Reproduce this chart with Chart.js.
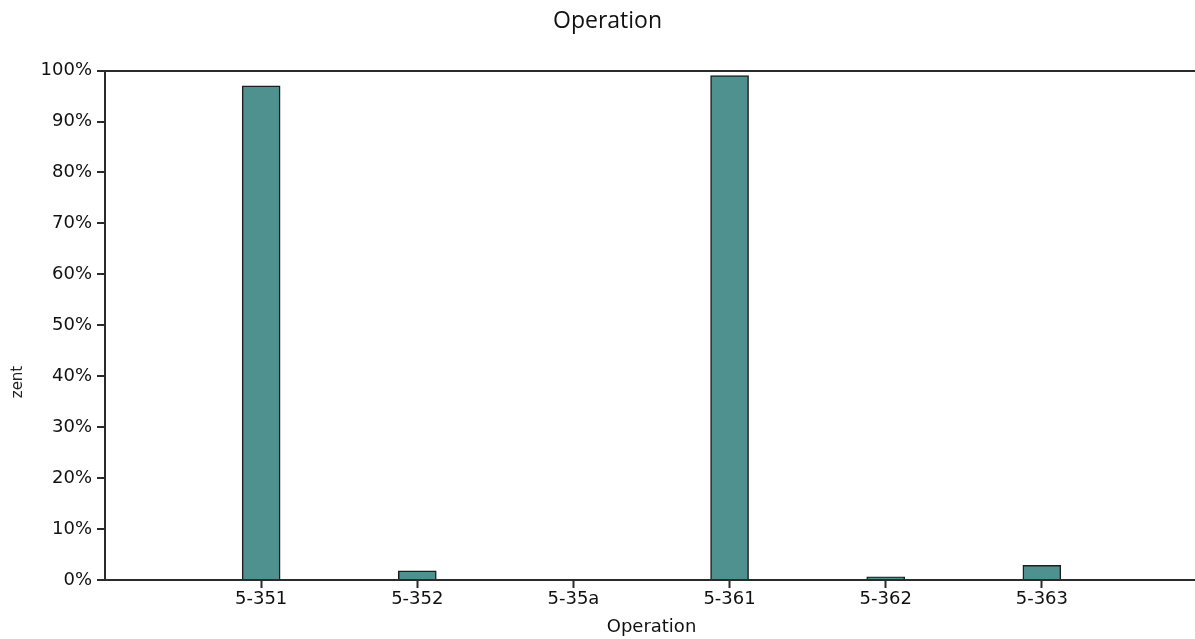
<!DOCTYPE html>
<html>
<head>
<meta charset="utf-8">
<title>Operation</title>
<script src="https://cdn.jsdelivr.net/npm/chart.js@4.4.1/dist/chart.umd.min.js"></script>
<style>
    html, body { margin: 0; padding: 0; background: #fff; overflow: hidden; }
    /* the original is cropped on the right, so the canvas runs a bit past the window */
    #wrap { width: 1215px; height: 639px; }
</style>
</head>
<body>
<div id="wrap"><canvas id="opChart"></canvas></div>
<script>
// Data
const operations = ["5-351", "5-352", "5-35a", "5-361", "5-362", "5-363"];
const percentValues = [97, 1.8, 0, 99, 0.6, 2.9];
const yTicks = [0, 10, 20, 30, 40, 50, 60, 70, 80, 90, 100];

// Empty slot on each side, like the original axis
const labels = ["", ...operations, ""];
const values = [null, ...percentValues, null];

const axisColor = "#2b2b2b";
const tickFont = { family: "DejaVu Sans", size: 18 };

// y axis title is partly cut off in the original, drawn by hand
const yTitlePlugin = {
    id: "yTitle",
    afterLayout(chart) {
        // title centred on the full canvas, not inside the right padding
        if (chart.titleBlock) chart.titleBlock.right = chart.width;
    },
    afterDraw(chart) {
        const c = chart.ctx;
        c.save();
        c.translate(18, 382);
        c.rotate(-Math.PI / 2);
        c.font = "15px 'DejaVu Sans'";
        c.fillStyle = "#222";
        c.textAlign = "center";
        c.textBaseline = "middle";
        c.fillText("zent", 0, 0);
        c.restore();
    }
};

new Chart(document.getElementById("opChart"), {
    type: "bar",
    data: {
        labels: labels,
        datasets: [{
            label: "Operation",
            data: values,
            backgroundColor: "#4e918e",
            borderColor: "#1e1e1e",
            borderWidth: 1.5,
            barThickness: 38
        }]
    },
    options: {
        responsive: true,
        maintainAspectRatio: false,
        animation: false,
        layout: { padding: { left: 0, right: 17, top: 0, bottom: 0 } },
        plugins: {
            legend: { display: false },
            tooltip: { enabled: false },
            title: {
                display: true,
                text: "Operation",
                color: "#111",
                font: { family: "Open Sans", size: 23, weight: "normal" },
                padding: { top: 8, bottom: 35 }
            }
        },
        scales: {
            x: {
                offset: false,
                grid: {
                    offset: false,
                    drawOnChartArea: false,
                    tickLength: 8,
                    tickWidth: 2,
                    tickColor: c => (c.index === 0 || c.index === labels.length - 1) ? "rgba(0,0,0,0)" : axisColor
                },
                border: { color: axisColor, width: 2 },
                ticks: { color: "#111", font: tickFont, padding: 1, maxRotation: 0, autoSkip: false },
                title: {
                    display: true,
                    text: "Operation",
                    color: "#111",
                    font: tickFont,
                    padding: { top: 0, bottom: 1 }
                },
                afterFit(scale) { scale.height = 59; }
            },
            y: {
                min: 0,
                max: 100,
                afterBuildTicks(scale) { scale.ticks = yTicks.map(v => ({ value: v })); },
                grid: {
                    drawOnChartArea: true,
                    color: c => c.index === yTicks.length - 1 ? axisColor : "rgba(0,0,0,0)",
                    lineWidth: 2,
                    tickLength: 8,
                    tickWidth: 2,
                    tickColor: axisColor
                },
                border: { color: axisColor, width: 2 },
                ticks: {
                    color: "#111",
                    font: tickFont,
                    padding: 5,
                    callback: v => v + "%"
                },
                afterFit(scale) { scale.width = 105; }
            }
        }
    },
    plugins: [yTitlePlugin]
});
</script>
</body>
</html>
